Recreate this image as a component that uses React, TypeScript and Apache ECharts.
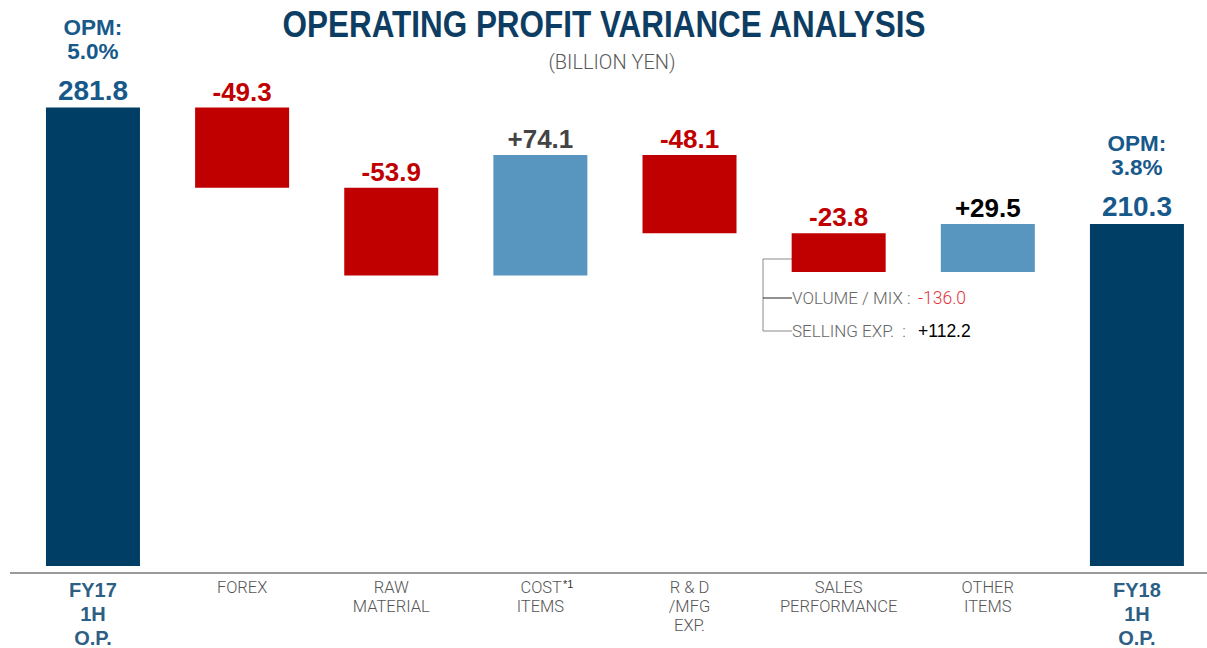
import React, { useEffect, useRef } from 'react';
import * as echarts from 'echarts';

const categories = [
  'FY17\n1H\nO.P.',
  'FOREX',
  'RAW\nMATERIAL',
  'COST\nITEMS',
  'R & D\n/MFG\nEXP.',
  'SALES\nPERFORMANCE',
  'OTHER\nITEMS',
  'FY18\n1H\nO.P.',
];
const startValue = 281.8;
const endValue = 210.3;
const deltas = [-49.3, -53.9, 74.1, -48.1, -23.8, 29.5];
const opmLabels = ['5.0%', '3.8%'];
const footnoteMark = '*1';
const subItems = ['VOLUME / MIX :', 'SELLING EXP.  :'];
const subValues = [-136.0, 112.2];
const titleText = 'OPERATING PROFIT VARIANCE ANALYSIS';
const unitText = '(BILLION YEN)';

const NAVY = '#003e66';
const RED = '#c00000';
const BLUE = '#5896bf';
const LABEL_BLUE = '#17598a';
const POS_LABEL_COLORS: Record<number, string> = { 3: '#444444', 6: '#000000' };

const fmt = (v: number) => (v > 0 ? '+' : '') + v.toFixed(1);

export default function App() {
  const ref = useRef<HTMLDivElement>(null);
  useEffect(() => {
    if (!ref.current) return;
    const chart = echarts.init(ref.current, undefined, { renderer: 'svg' });

    const base: number[] = [0];
    const heights: any[] = [];
    let running = startValue;
    heights.push({
      value: startValue,
      itemStyle: { color: NAVY },
      label: {
        formatter: `{o|OPM:}\n{o|${opmLabels[0]}}\n{s| }\n{v|${startValue.toFixed(1)}}`,
      },
    });
    deltas.forEach((d, i) => {
      const idx = i + 1;
      if (d < 0) {
        running = +(running + d).toFixed(1);
        base.push(running);
      } else {
        base.push(running);
        running = +(running + d).toFixed(1);
      }
      heights.push({
        value: Math.abs(d),
        itemStyle: { color: d < 0 ? RED : BLUE },
        label: {
          formatter: `{d|${fmt(d)}}`,
          rich: {
            d: {
              fontFamily: 'Liberation Sans, Arial, sans-serif',
              fontWeight: 'bold',
              fontSize: 26,
              lineHeight: 28,
              color: d < 0 ? RED : POS_LABEL_COLORS[idx] || '#222',
            },
          },
        },
      });
    });
    base.push(0);
    heights.push({
      value: endValue,
      itemStyle: { color: NAVY },
      label: {
        formatter: `{o|OPM:}\n{o|${opmLabels[1]}}\n{s| }\n{v|${endValue.toFixed(1)}}`,
      },
    });

    const labelFont = 'Roboto, Liberation Sans, Arial, sans-serif';
    const sansFont = 'Liberation Sans, Arial, sans-serif';

    const option: any = {
      animation: false,
      grid: { left: 18.4, top: 78, width: 1193.1, height: 495 },
      xAxis: {
        type: 'category',
        data: categories,
        axisLine: { show: false },
        axisTick: { show: false },
        axisLabel: {
          interval: 0,
          margin: 12,
          formatter: (value: string, index: number) => {
            const lines = value.split('\n');
            if (index === 0 || index === categories.length - 1) {
              return lines.map((l) => `{b|${l}}`).join('\n');
            }
            if (index === 3) {
              return (
                `{pad|}{n|${lines[0]}}{sup|${footnoteMark}}\n` +
                lines.slice(1).map((l) => `{n|${l}}`).join('\n')
              );
            }
            return lines.map((l) => `{n|${l}}`).join('\n');
          },
          rich: {
            b: {
              fontFamily: sansFont,
              fontWeight: 'bold',
              fontSize: 20,
              lineHeight: 24,
              color: '#2d5f85',
            },
            n: {
              fontFamily: labelFont,
              fontWeight: 300,
              fontSize: 16.5,
              lineHeight: 19,
              color: '#555555',
            },
            sup: {
              fontFamily: sansFont,
              fontSize: 11,
              lineHeight: 19,
              color: '#333',
              padding: [0, 0, 8, 1],
              verticalAlign: 'top',
            },
            pad: { width: 13, lineHeight: 19 },
          },
        },
        splitLine: { show: false },
      },
      yAxis: {
        type: 'value',
        min: 0,
        max: 300,
        show: false,
        splitLine: { show: false },
      },
      series: [
        {
          type: 'bar',
          stack: 'wf',
          data: base,
          barWidth: 94,
          itemStyle: { color: 'transparent' },
          silent: true,
          label: { show: false },
        },
        {
          type: 'bar',
          stack: 'wf',
          data: heights,
          barWidth: 94,
          label: {
            show: true,
            position: 'top',
            distance: 2,
            align: 'center',
            rich: {
              o: {
                fontFamily: sansFont,
                fontWeight: 'bold',
                fontSize: 22.5,
                lineHeight: 24,
                color: LABEL_BLUE,
              },
              s: { fontSize: 8, lineHeight: 11 },
              v: {
                fontFamily: sansFont,
                fontWeight: 'bold',
                fontSize: 28,
                lineHeight: 31,
                color: LABEL_BLUE,
              },
            },
          },
        },
      ],
      graphic: [
        {
          type: 'text',
          x: 604,
          y: 6,
          scaleX: 0.85,
          style: {
            text: titleText,
            fontFamily: sansFont,
            fontWeight: 'bold',
            fontSize: 37,
            fill: '#0d3d62',
            align: 'center',
            verticalAlign: 'top',
          },
        },
        {
          type: 'text',
          x: 612,
          y: 62,
          style: {
            text: unitText,
            fontFamily: labelFont,
            fontWeight: 300,
            fontSize: 20,
            fill: '#595959',
            align: 'center',
            verticalAlign: 'middle',
          },
        },
        {
          type: 'line',
          shape: { x1: 10, y1: 573, x2: 1207, y2: 573 },
          style: { stroke: '#9a9a9a', lineWidth: 2 },
        },
        {
          type: 'polyline',
          shape: { points: [[793, 259], [763, 259], [763, 331], [792, 331]] },
          style: { stroke: '#8a8a8a', lineWidth: 1, fill: null },
        },
        {
          type: 'line',
          shape: { x1: 763, y1: 298, x2: 792, y2: 298 },
          style: { stroke: '#222', lineWidth: 1 },
        },
        {
          type: 'text',
          x: 792,
          y: 298,
          style: {
            text: subItems[0],
            fontFamily: labelFont,
            fontWeight: 300,
            fontSize: 17,
            fill: '#666',
            verticalAlign: 'middle',
          },
        },
        {
          type: 'text',
          x: 918,
          y: 298,
          style: {
            text: fmt(subValues[0]),
            fontFamily: labelFont,
            fontWeight: 300,
            fontSize: 17.5,
            fill: '#e0353d',
            verticalAlign: 'middle',
          },
        },
        {
          type: 'text',
          x: 792,
          y: 331,
          style: {
            text: subItems[1],
            fontFamily: labelFont,
            fontWeight: 300,
            fontSize: 17,
            fill: '#666',
            verticalAlign: 'middle',
          },
        },
        {
          type: 'text',
          x: 918,
          y: 331,
          style: {
            text: fmt(subValues[1]),
            fontFamily: sansFont,
            fontSize: 17.5,
            fill: '#000',
            verticalAlign: 'middle',
          },
        },
      ],
    };
    chart.setOption(option);
    return () => chart.dispose();
  }, []);
  return (
    <div
      style={{
        position: 'absolute',
        left: 0,
        top: 0,
        width: 1207,
        height: 648,
        overflow: 'hidden',
        background: '#fff',
      }}
    >
      <div ref={ref} style={{ width: 1216, height: 648 }} />
    </div>
  );
}
